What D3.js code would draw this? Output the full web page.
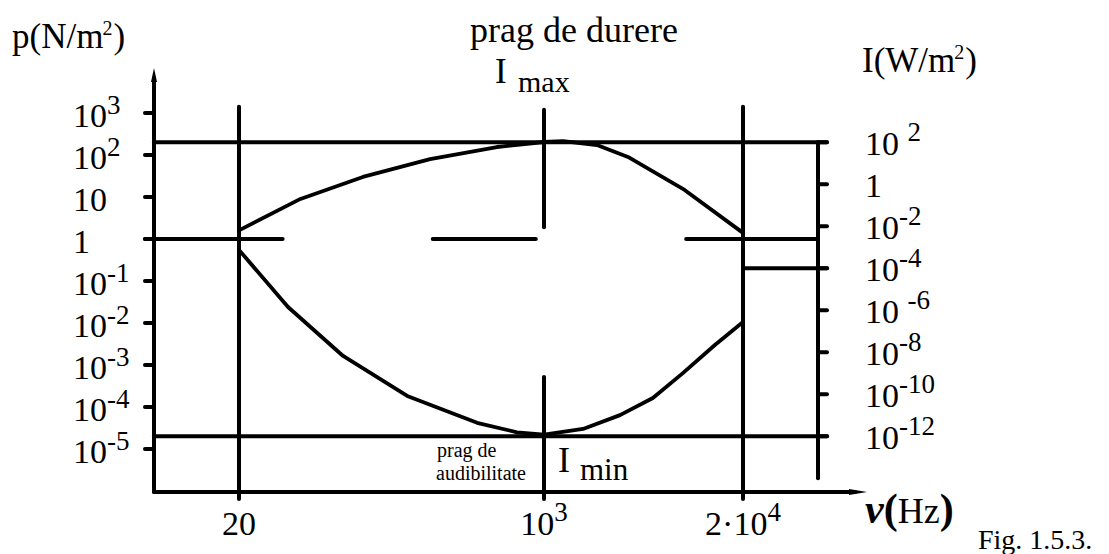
<!DOCTYPE html>
<html>
<head>
<meta charset="utf-8">
<script src="https://cdn.jsdelivr.net/npm/d3@7"></script>
<style>
  html, body { margin: 0; padding: 0; background: #fff; }
  svg { display: block; font-family: "Liberation Serif", "Times New Roman", serif; }
  text { white-space: pre; fill: #000; }
</style>
</head>
<body>
<svg id="chart" width="1109" height="554"></svg>
<script>
// ---- frequency axis (Hz) ----
const freqTicks = [20, 1000, 20000];
const freqTickBase = ["20", "10", "2·10"];
const freqTickExp = ["", "3", "4"];

// ---- sound pressure axis (N/m²) ----
const pressureTicks = [1e3, 1e2, 10, 1, 1e-1, 1e-2, 1e-3, 1e-4, 1e-5];
const pressureTickBase = ["10", "10", "10", "1", "10", "10", "10", "10", "10"];
const pressureTickExp = ["3", "2", "", "", "-1", "-2", "-3", "-4", "-5"];

// ---- intensity axis (W/m²) ----
const intensityTicks = [1e2, 1, 1e-2, 1e-4, 1e-6, 1e-8, 1e-10, 1e-12];
const intensityTickBase = ["10 ", "1", "10", "10", "10 ", "10", "10", "10"];
const intensityTickExp = ["2", "", "-2", "-4", "-6", "-8", "-10", "-12"];

// ---- threshold of pain (Hz, N/m²) ----
const painFreq = [20, 44, 98, 232, 547, 1000, 1330, 2220, 3540, 8300, 20000];
const painPressure = [1.6, 9, 30, 80, 155, 204, 215, 173, 90, 14.7, 1.4];

// ---- threshold of hearing (Hz, N/m²) ----
const hearFreq = [20, 37.5, 76, 173, 424, 708, 1000, 1800, 3140, 5150, 8090, 13100, 20000];
const hearPressure = [0.55, 0.024, 1.64e-3, 1.83e-4, 4.2e-5, 2.5e-5, 2.2e-5, 3e-5, 6.4e-5, 1.64e-4, 6.4e-4, 3e-3, 1.06e-2];

// ---- reference levels ----
const pMax = 200;          // N/m², prag de durere
const pMin = 2e-5;         // N/m², prag de audibilitate
const pUnit = 1;           // broken guide line at 1 N/m²
const unitGapFreq = [[35, 240], [900, 8500]];  // gaps in the guide line (Hz)
const iMark = 1e-4;        // W/m² mark on the intensity side
const iAxisLow = 1e-14;    // lower end of the intensity axis
const freqGuideTop = 1400; // top of the frequency guide lines (N/m²)
const midGuide = [[1200, 1.9], [5.2e-4, null]]; // 1 kHz guide pieces (N/m²)

// ---- frame ----
const axisLeft = 154, axisBottom = 492, axisTop = 68, xAxisEnd = 867, rightAxisX = 818;
const tickLen = 9, lw = 4;

const svg = d3.select("#chart");

const x = d3.scaleLog().domain(freqTicks).range([239, 544, 743]);
const yP = d3.scaleLog().domain([1e-5, 1e3]).range([449, 113]);
const yI = d3.scaleLog().domain([1e-12, 1e2]).range([yP(pMin), yP(pMax)]);

const g = svg.append("g")
  .attr("stroke", "#000")
  .attr("stroke-width", lw)
  .attr("stroke-linecap", "round")
  .attr("fill", "none");

function seg(x1, y1, x2, y2) {
  g.append("line").attr("x1", x1).attr("y1", y1).attr("x2", x2).attr("y2", y2);
}

// axes
seg(axisLeft, axisBottom, axisLeft, axisTop + 10);
seg(axisLeft, axisBottom, xAxisEnd - 12, axisBottom);
svg.append("path")
  .attr("d", `M${axisLeft},${axisTop} L${axisLeft + 3},${axisTop + 14} L${axisLeft - 3},${axisTop + 14} Z`)
  .attr("fill", "#000");
svg.append("path")
  .attr("d", `M${xAxisEnd},${axisBottom} L${xAxisEnd - 18},${axisBottom - 3} L${xAxisEnd - 18},${axisBottom + 3} Z`)
  .attr("fill", "#000");

// pressure ticks
pressureTicks.forEach(p => seg(axisLeft - tickLen, yP(p), axisLeft, yP(p)));

// intensity axis and ticks
seg(rightAxisX, yI(intensityTicks[0]), rightAxisX, yI(iAxisLow));
intensityTicks.forEach(v => seg(rightAxisX, yI(v), rightAxisX + tickLen, yI(v)));

// threshold lines
seg(axisLeft, yP(pMax), rightAxisX + tickLen, yP(pMax));
seg(axisLeft, yP(pMin), rightAxisX + tickLen, yP(pMin));

// broken guide line at 1 N/m²
const unitStops = [axisLeft - tickLen, ...unitGapFreq.flat().map(x), rightAxisX];
for (let i = 0; i < unitStops.length; i += 2) seg(unitStops[i], yP(pUnit), unitStops[i + 1], yP(pUnit));

// intensity mark at high frequency
seg(x(freqTicks[2]), yI(iMark), rightAxisX + tickLen, yI(iMark));

// frequency guide lines
seg(x(freqTicks[0]), yP(freqGuideTop), x(freqTicks[0]), axisBottom + 7);
seg(x(freqTicks[2]), yP(freqGuideTop), x(freqTicks[2]), axisBottom + 7);
midGuide.forEach(([a, b]) => seg(x(freqTicks[1]), yP(a), x(freqTicks[1]), b == null ? axisBottom + 7 : yP(b)));

// threshold curves
const line = d3.line().x(d => x(d[0])).y(d => yP(d[1])).curve(d3.curveLinear);
g.append("path").attr("stroke-width", 3.8).attr("stroke-linejoin", "round")
  .attr("d", line(d3.zip(painFreq, painPressure)));
g.append("path").attr("stroke-width", 3.8).attr("stroke-linejoin", "round")
  .attr("d", line(d3.zip(hearFreq, hearPressure)));

// ---- text ----
const T = svg.append("g");

function powerLabel(px, py, base, exp, size, supSize, rise, anchor) {
  const t = T.append("text").attr("x", px).attr("y", py)
    .attr("font-size", size).attr("text-anchor", anchor || "start");
  t.append("tspan").text(base);
  if (exp) t.append("tspan").attr("font-size", supSize).attr("dy", -rise).text(exp);
  return t;
}

// pressure tick labels
pressureTicks.forEach((p, i) =>
  powerLabel(73, yP(p) + 14, pressureTickBase[i], pressureTickExp[i], 34, 27, 13));

// intensity tick labels
intensityTicks.forEach((v, i) =>
  powerLabel(865, yI(v) + 13, intensityTickBase[i], intensityTickExp[i], 34, 27, 14));

// frequency tick labels
freqTicks.forEach((f, i) =>
  powerLabel(x(f), 535, freqTickBase[i], freqTickExp[i], 34, 27, 14, "middle"));

// axis titles
function unitTitle(px, py, head, tail) {
  const t = T.append("text").attr("x", px).attr("y", py).attr("font-size", 35);
  t.append("tspan").text(head);
  t.append("tspan").attr("font-size", 20).attr("dy", -13).attr("dx", -1).text("2");
  t.append("tspan").attr("dy", 13).attr("dx", 1).text(tail);
}
unitTitle(12, 48, "p(N/m", ")");
unitTitle(862, 72, "I(W/m", ")");

const nu = T.append("text").attr("x", 865).attr("y", 523).attr("font-size", 36);
nu.append("tspan").attr("font-weight", "bold").attr("font-style", "italic").attr("font-size", 42).text("ν");
nu.append("tspan").attr("font-weight", "bold").attr("font-size", 42).text("(");
nu.append("tspan").text("Hz");
nu.append("tspan").attr("font-weight", "bold").attr("font-size", 42).text(")");

T.append("text").attr("x", 978).attr("y", 549).attr("font-size", 28).text("Fig. 1.5.3.");

// threshold annotations
T.append("text").attr("x", 470).attr("y", 42).attr("font-size", 36).text("prag de durere");
T.append("text").attr("x", 495).attr("y", 83).attr("font-size", 35).text("I");
T.append("text").attr("x", 518).attr("y", 92).attr("font-size", 30).text("max");

T.append("text").attr("x", 437).attr("y", 457).attr("font-size", 20).text("prag de");
T.append("text").attr("x", 436).attr("y", 480).attr("font-size", 20).text("audibilitate");
T.append("text").attr("x", 558).attr("y", 472).attr("font-size", 36).text("I");
T.append("text").attr("x", 580).attr("y", 480).attr("font-size", 31).text("min");
</script>
</body>
</html>
